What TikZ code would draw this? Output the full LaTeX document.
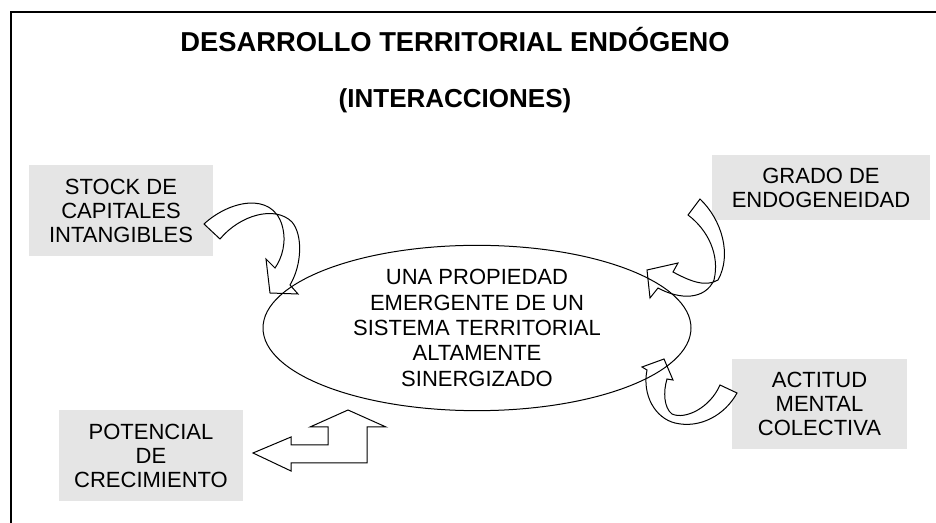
\documentclass[tikz,border=0pt]{standalone}
\usepackage{fontspec}
\setmainfont{Liberation Sans}
\usetikzlibrary{shapes.geometric}

\begin{document}
\begin{tikzpicture}[
  x=0.75pt, y=-0.75pt,
  font=\fontsize{16.5}{18}\selectfont,
  heading/.style={font=\fontsize{19.5}{23}\selectfont\bfseries},
  box/.style={fill=black!10,align=center,inner sep=0pt},
  oval/.style={draw,ellipse,line width=0.75pt,align=center,inner sep=0pt,
               minimum width=321pt,minimum height=123pt,font=\fontsize{16.5}{19}\selectfont},
  blockarrow/.style={draw,fill=white,line width=0.75pt,line join=miter},
]
\useasboundingbox (0,0) rectangle (936,523);
% frame
\draw[line width=1.6pt] (11,523) -- (11,12) -- (936,12);
% titles
\node[heading,font=\fontsize{20.5}{23}\selectfont\bfseries] (title) at (455,40) {DESARROLLO TERRITORIAL ENDÓGENO};
\node[heading] (sub) at (455,101) {(INTERACCIONES)};
% factors
\node[box,minimum width=138pt,minimum height=68.25pt]   (stock) at (121,210.5) {STOCK DE\\CAPITALES\\INTANGIBLES};
\node[box,minimum width=163.5pt,minimum height=48.75pt] (grado) at (821,187.5) {GRADO DE\\ENDOGENEIDAD};
\node[box,minimum width=131.25pt,minimum height=67.5pt] (actitud) at (819.5,404) {ACTITUD\\MENTAL\\COLECTIVA};
\node[box,minimum width=138pt,minimum height=68.25pt]   (potencial) at (151,455.5) {POTENCIAL\\DE\\CRECIMIENTO};
% curved arrows
\draw[blockarrow] (204,224) .. controls (230,200) and (272,192) .. (282,225)
  .. controls (287,242) and (282,258) .. (275,268) -- (266,259) -- (270,293) -- (298,294) -- (290,285)
  .. controls (302,265) and (303,235) .. (292,222) .. controls (275,205) and (240,215) .. (220,239) -- cycle;
\draw[blockarrow] (700,199) .. controls (722,220) and (732,255) .. (718,280)
  .. controls (705,288) and (688,280) .. (673,272) -- (678,263) -- (647,270) -- (650,298) -- (658,288)
  .. controls (680,300) and (705,300) .. (714,280) .. controls (720,255) and (708,230) .. (688,215) -- cycle;
\draw[blockarrow] (720,385) .. controls (710,408) and (685,420) .. (672,414)
  .. controls (664,408) and (663,392) .. (667,379) -- (673,380) -- (664,359) -- (642,367) -- (647,370)
  .. controls (642,395) and (655,418) .. (675,423) .. controls (700,429) and (725,415) .. (737,393) -- cycle;
% bent arrow
\draw[blockarrow] (348,410) -- (386,427) -- (367,427) -- (367,463) -- (291,463) -- (291,471)
  -- (253,453) -- (291,437) -- (291,445) -- (328,445) -- (328,427) -- (310,427) -- cycle;
% centre
\node[oval] (sistema) at (477,328) {UNA PROPIEDAD\\EMERGENTE DE UN\\SISTEMA TERRITORIAL\\ALTAMENTE\\SINERGIZADO};
\end{tikzpicture}
\end{document}
